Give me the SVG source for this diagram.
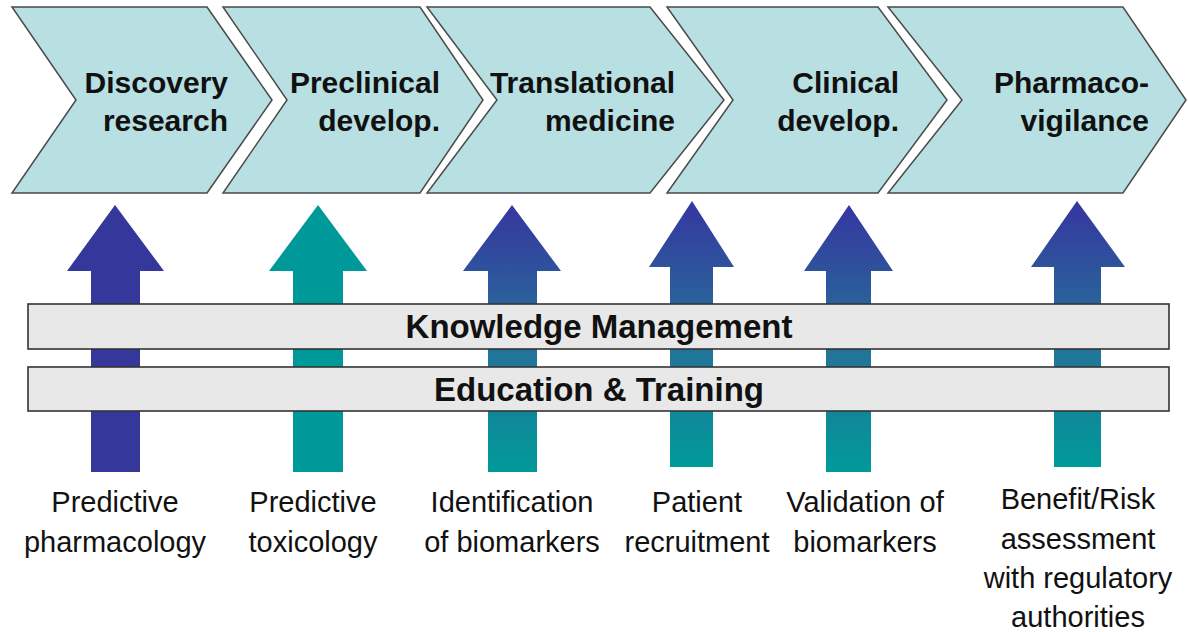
<svg xmlns="http://www.w3.org/2000/svg" width="1188" height="632" viewBox="0 0 1188 632">
<style>
.chev{fill:#b8dfe2;stroke:#4a4a4a;stroke-width:1.5;stroke-linejoin:miter}
.ct{font-family:"Liberation Sans",Arial,sans-serif;font-weight:bold;font-size:30px;fill:#111;text-anchor:end}
.bar{fill:#e8e8e8;stroke:#333;stroke-width:1.6}
.bt{font-family:"Liberation Sans",Arial,sans-serif;font-weight:bold;font-size:33px;fill:#111;text-anchor:middle}
.lt{font-family:"Liberation Sans",Arial,sans-serif;font-size:29px;fill:#111;text-anchor:middle}
</style>
<defs>
<linearGradient id="grad" x1="0" y1="0" x2="0" y2="1">
<stop offset="0" stop-color="#3636a0"/>
<stop offset="0.5" stop-color="#266f99"/>
<stop offset="1" stop-color="#009a9a"/>
</linearGradient>
</defs>
<rect width="1188" height="632" fill="#ffffff"/>

<g id="chevron-discovery">
<polygon class="chev" points="12,7 207,7 272,100 207,193 12,193 76,100"/>
<text class="ct" x="228" y="93">Discovery</text>
<text class="ct" x="228" y="131">research</text>
</g>
<g id="chevron-preclinical">
<polygon class="chev" points="223,7 420,7 483,100 420,193 223,193 287,100"/>
<text class="ct" x="440" y="93">Preclinical</text>
<text class="ct" x="440" y="131">develop.</text>
</g>
<g id="chevron-translational">
<polygon class="chev" points="427,7 650,7 724,100 650,193 427,193 497,100"/>
<text class="ct" x="675" y="93">Translational</text>
<text class="ct" x="675" y="131">medicine</text>
</g>
<g id="chevron-clinical">
<polygon class="chev" points="667,7 878,7 947,100 878,193 667,193 733,100"/>
<text class="ct" x="899" y="93">Clinical</text>
<text class="ct" x="899" y="131">develop.</text>
</g>
<g id="chevron-pharmacovigilance">
<polygon class="chev" points="888,7 1123,7 1186,100 1123,193 888,193 962,100"/>
<text class="ct" x="1149" y="93">Pharmaco-</text>
<text class="ct" x="1149" y="131">vigilance</text>
</g>

<g id="connectors">
<polygon id="arrow-1" fill="#35379a" points="115,205 164,271 140,271 140,472 91,472 91,271 67,271"/>
<polygon id="arrow-2" fill="#009999" points="318,205 367,271 343,271 343,472 293,472 293,271 269,271"/>
<polygon id="arrow-3" fill="url(#grad)" points="512,205 561,271 537,271 537,472 488,472 488,271 463,271"/>
<polygon id="arrow-4" fill="url(#grad)" points="692,201 734,267 713,267 713,467 670,467 670,267 649,267"/>
<polygon id="arrow-5" fill="url(#grad)" points="849,205 893,271 871,271 871,472 826,472 826,271 804,271"/>
<polygon id="arrow-6" fill="url(#grad)" points="1077,201 1125,267 1101,267 1101,467 1054,467 1054,267 1031,267"/>
</g>

<g id="bar-knowledge">
<rect class="bar" x="28" y="304" width="1141" height="45"/>
<text class="bt" x="599" y="338">Knowledge Management</text>
</g>
<g id="bar-education">
<rect class="bar" x="28" y="367" width="1141" height="44"/>
<text class="bt" x="599" y="401">Education &amp; Training</text>
</g>

<g id="label-1">
<text class="lt" x="115" y="512">Predictive</text>
<text class="lt" x="115" y="552">pharmacology</text>
</g>
<g id="label-2">
<text class="lt" x="313" y="512">Predictive</text>
<text class="lt" x="313" y="552">toxicology</text>
</g>
<g id="label-3">
<text class="lt" x="512" y="512">Identification</text>
<text class="lt" x="512" y="552">of biomarkers</text>
</g>
<g id="label-4">
<text class="lt" x="697" y="512">Patient</text>
<text class="lt" x="697" y="552">recruitment</text>
</g>
<g id="label-5">
<text class="lt" x="865" y="512">Validation of</text>
<text class="lt" x="865" y="552">biomarkers</text>
</g>
<g id="label-6">
<text class="lt" x="1078" y="509">Benefit/Risk</text>
<text class="lt" x="1078" y="549">assessment</text>
<text class="lt" x="1078" y="588">with regulatory</text>
<text class="lt" x="1078" y="627">authorities</text>
</g>
</svg>
